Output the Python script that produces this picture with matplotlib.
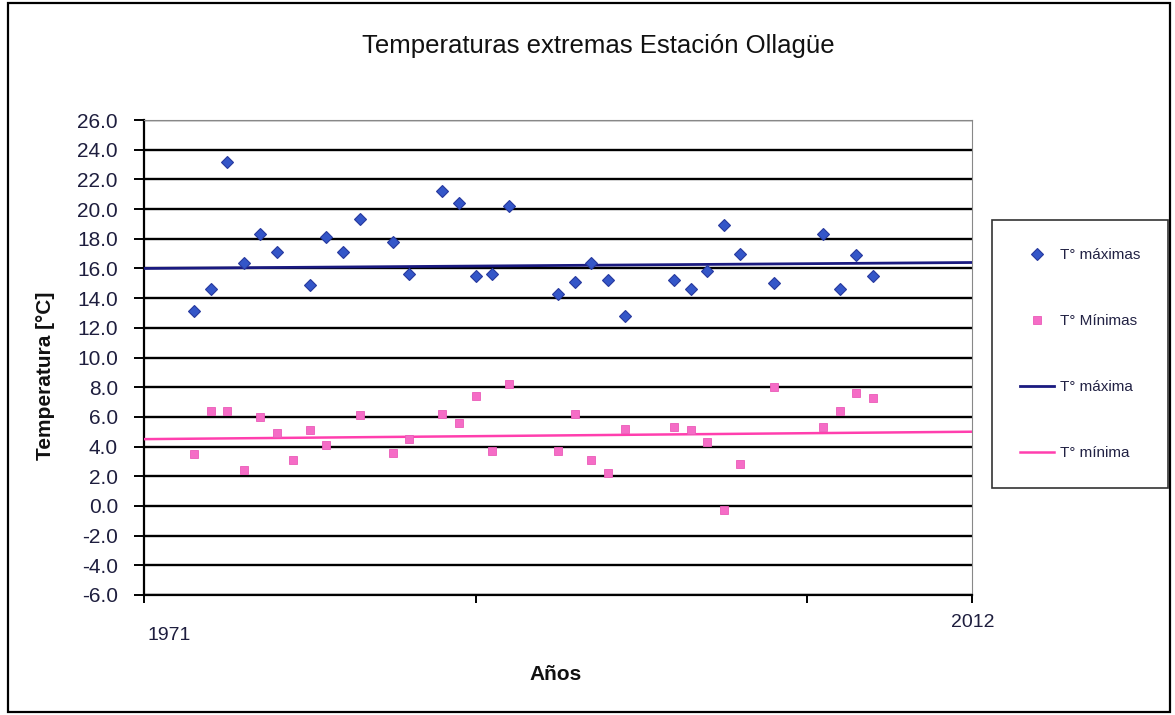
import matplotlib
matplotlib.use("Agg")
import matplotlib.pyplot as plt
from matplotlib.patches import Rectangle

plt.rcParams['font.family'] = ['Liberation Sans', 'DejaVu Sans']

# ---- data ----
max_x = [3, 4, 5, 6, 7, 8, 10, 11, 12, 13, 15, 16, 18, 19, 20, 21, 22,
         25, 26, 27, 28, 29, 32, 33, 34, 35, 36, 38, 41, 42, 43, 44]
max_t = [13.1, 14.6, 23.2, 16.4, 18.3, 17.1, 14.9, 18.1, 17.1, 19.3, 17.8, 15.6,
         21.2, 20.4, 15.5, 15.6, 20.2, 14.3, 15.1, 16.4, 15.2, 12.8, 15.2, 14.6,
         15.8, 18.9, 17.0, 15.0, 18.3, 14.6, 16.9, 15.5]
min_x = [3, 4, 5, 6, 7, 8, 9, 10, 11, 13, 15, 16, 18, 19, 20, 21, 22,
         25, 26, 27, 28, 29, 32, 33, 34, 35, 36, 38, 41, 42, 43, 44]
min_t = [3.5, 6.4, 6.4, 2.4, 6.0, 4.9, 3.1, 5.1, 4.1, 6.1, 3.6, 4.5,
         6.2, 5.6, 7.4, 3.7, 8.2, 3.7, 6.2, 3.1, 2.2, 5.2, 5.3, 5.1,
         4.3, -0.3, 2.8, 8.0, 5.3, 6.4, 7.6, 7.3]
# trend lines as drawn in the reference (values at the two ends of the axis)
trend_x = [0, 50]
trend_max = [16.0, 16.4]
trend_min = [4.5, 5.0]
x_limits = [0, 50]
x_ticks = [0, 20, 40, 50]
year_labels = ['1971', '2012']
y_ticks = list(range(-6, 27, 2))

title = 'Temperaturas extremas Estación Ollagüe'
series_names = ['T° máximas', 'T° Mínimas', 'T° máxima', 'T° mínima']

# ---- figure ----
W, H = 1175, 715
fig = plt.figure(figsize=(W / 100, H / 100), dpi=100)
fig.patch.set_facecolor('white')

# outer chart border
fig.patches.append(Rectangle((8 / W, 3 / H), 1162 / W, 709 / H,
                             transform=fig.transFigure, fill=False,
                             edgecolor='black', linewidth=1.6))

ax = fig.add_axes([144.3 / W, 120 / H, 828 / W, 475 / H])
ax.set_xlim(*x_limits)
ax.set_ylim(y_ticks[0], y_ticks[-1])

# gridlines
ax.set_yticks(y_ticks)
ax.set_yticklabels([f'{v:.1f}' for v in y_ticks])
ax.yaxis.grid(True, color='black', linewidth=1.7)
ax.set_axisbelow(True)

ax.plot(max_x, max_t, linestyle='none', marker='D', markersize=6.5,
        markerfacecolor='#3456c8', markeredgecolor='#27399e', markeredgewidth=0.8,
        label=series_names[0], zorder=4)
ax.plot(min_x, min_t, linestyle='none', marker='s', markersize=6,
        markerfacecolor='#f56cc6', markeredgecolor='#ea5bb8', markeredgewidth=0.6,
        label=series_names[1], zorder=4)
ax.plot(trend_x, trend_max, color='#1a1a80', linewidth=2.0,
        label=series_names[2], zorder=3)
ax.plot(trend_x, trend_min, color='#ff3fae', linewidth=1.8,
        label=series_names[3], zorder=3)

# spines
for s in ['left', 'bottom']:
    ax.spines[s].set_color('black')
    ax.spines[s].set_linewidth(1.6)
ax.spines['top'].set_color('#888888')
ax.spines['top'].set_linewidth(0.8)
ax.spines['right'].set_color('#888888')
ax.spines['right'].set_linewidth(0.8)
ax.spines['right'].set_linestyle((0, (2, 1)))

ax.tick_params(axis='y', direction='out', length=7, width=1.4, color='black',
               labelsize=15, labelcolor='#1e1e3e', pad=12)
ax.set_xticks(x_ticks)
ax.set_xticklabels([''] * len(x_ticks))
ax.tick_params(axis='x', direction='out', length=6, width=1.4, color='black')

# year labels at the ends of the axis
ax.annotate(year_labels[0], xy=(x_limits[0], 0), xycoords=('data', 'axes fraction'),
            xytext=(18, -29), textcoords='offset points', ha='center', va='center',
            fontsize=14, color='#1e1e3e')
ax.annotate(year_labels[1], xy=(x_limits[1], 0), xycoords=('data', 'axes fraction'),
            xytext=(0, -20), textcoords='offset points', ha='center', va='center',
            fontsize=14, color='#1e1e3e')

# titles
fig.text(598 / W, 1 - 46 / H, title, ha='center', va='center', fontsize=18.5,
         color='#111111')
fig.text(556 / W, 1 - 675 / H, 'Años', ha='center', va='center', fontsize=15,
         fontweight='bold', color='#111111')
fig.text(46 / W, 1 - 376 / H, 'Temperatura [°C]', ha='center', va='center',
         rotation=90, fontsize=15, fontweight='bold', color='#111111')

# legend
leg = fig.legend(loc='center', bbox_to_anchor=(1080 / W, 1 - 354 / H),
                 bbox_transform=fig.transFigure, fontsize=11, frameon=True,
                 fancybox=False, edgecolor='black', labelspacing=3.4,
                 handlelength=2.2, handletextpad=0.4, borderpad=1.85,
                 borderaxespad=0)
leg.get_frame().set_linewidth(1.2)
for t in leg.get_texts():
    t.set_color('#222244')

fig.savefig('out.png', dpi=100, facecolor='white')
